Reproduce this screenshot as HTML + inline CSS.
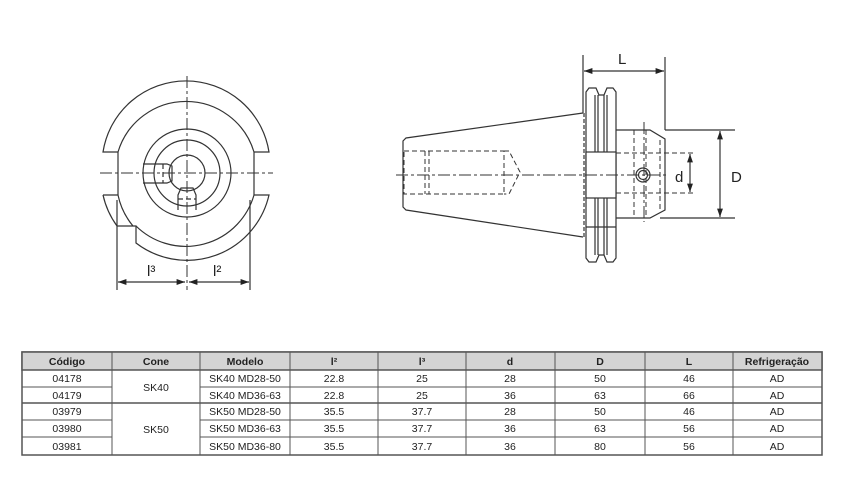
<!DOCTYPE html>
<html><head><meta charset="utf-8"><style>
html,body{margin:0;padding:0;background:#fff;}
svg{display:block}
text{font-family:"Liberation Sans",sans-serif;}
</style></head><body>
<svg width="844" height="479" viewBox="0 0 844 479" xmlns="http://www.w3.org/2000/svg">
<defs>
<marker id="ar" viewBox="0 0 10 10" refX="10" refY="5" markerWidth="7" markerHeight="7" orient="auto-start-reverse"><path d="M0,1.5 L10,5 L0,8.5 z" fill="#222"/></marker>
</defs>
<g fill="none" stroke="#333" stroke-width="1.2">
<!-- left view -->
<path d="M103,152 A84,84 0 0 1 269,152 L254,152 A71,71 0 0 0 118,152 Z"/>
<line x1="118" y1="152" x2="118" y2="195"/><line x1="254" y1="152" x2="254" y2="195"/>
<path d="M103,195 L118,195 A71,71 0 0 0 133,226 M103,195 A84,84 0 0 0 117,226 L136,226 L136,243 A84,84 0 0 0 269,195 L254,195 A71,71 0 0 1 136,226"/>
<circle cx="187" cy="173" r="44"/><circle cx="187" cy="173" r="33"/><circle cx="187" cy="173" r="18"/>
<path d="M143,164 L167,164 L172,166 L172,181 L167,183 L143,183"/>
<path d="M178,210 L178,195 L181,188 L193,188 L196,195 L196,210"/>
<g stroke-dasharray="5,3"><line x1="163" y1="164" x2="163" y2="183"/><line x1="178" y1="199" x2="196" y2="199"/></g>
<g stroke-dasharray="12,3,3,3" stroke-width="1"><line x1="100" y1="173" x2="273" y2="173"/><line x1="187" y1="76" x2="187" y2="290"/></g>
<line x1="117" y1="200" x2="117" y2="290"/><line x1="250" y1="200" x2="250" y2="290"/>
<line x1="118" y1="282" x2="185" y2="282" marker-start="url(#ar)" marker-end="url(#ar)"/>
<line x1="189" y1="282" x2="249" y2="282" marker-start="url(#ar)" marker-end="url(#ar)"/>
<!-- right view cone -->
<path d="M583,113 L406,138 L403,141 L403,207 L406,210 L583,237"/>
<line x1="584" y1="113" x2="584" y2="237" stroke-dasharray="4,2"/>
<!-- flange -->
<path d="M586,92 L589,88 L596,88 L599,95 L604,95 L607,88 L613,88 L616,92 L616,258 L613,262 L607,262 L604,255 L599,255 L596,262 L589,262 L586,258 Z"/>
<line x1="595" y1="95" x2="595" y2="255"/><line x1="598" y1="95" x2="598" y2="255"/><line x1="604" y1="95" x2="604" y2="255"/><line x1="607" y1="95" x2="607" y2="255"/>
<line x1="586" y1="227" x2="616" y2="227"/>
<rect x="586" y="152" width="30" height="46" fill="#fff"/>
<!-- front body -->
<path d="M616,130 L650,130 L665,139 L665,210 L650,218 L616,218"/>
<g stroke-dasharray="5,3" stroke-width="1">
<rect x="404" y="151" width="100" height="43"/>
<line x1="425" y1="151" x2="425" y2="194"/><line x1="429" y1="151" x2="429" y2="194"/>
<path d="M504,151 L509,151 L520,172 L509,194 L504,194"/>
<line x1="616" y1="153" x2="693" y2="153"/><line x1="616" y1="193" x2="693" y2="193"/>
<line x1="634" y1="130" x2="634" y2="218"/><line x1="646" y1="130" x2="646" y2="218"/>
<line x1="660" y1="140" x2="660" y2="210"/>
</g>
<circle cx="643" cy="175" r="7"/><circle cx="643" cy="175" r="4.5"/>
<g stroke-dasharray="12,3,3,3" stroke-width="1"><line x1="396" y1="175" x2="668" y2="175"/><line x1="644" y1="122" x2="644" y2="222"/></g>
<!-- dims -->
<line x1="583" y1="55" x2="583" y2="113"/><line x1="665" y1="57" x2="665" y2="130"/>
<line x1="584" y1="71" x2="664" y2="71" marker-start="url(#ar)" marker-end="url(#ar)"/>
<line x1="665" y1="130" x2="735" y2="130"/><line x1="660" y1="218" x2="735" y2="218"/>
<line x1="720" y1="131" x2="720" y2="217" marker-start="url(#ar)" marker-end="url(#ar)"/>
<line x1="690" y1="154" x2="690" y2="192" marker-start="url(#ar)" marker-end="url(#ar)"/>
</g>
<g fill="#222" font-size="15">
<text x="618" y="64">L</text><text x="675" y="182">d</text><text x="731" y="182">D</text>
<text x="147" y="276">l³</text><text x="213" y="276">l²</text>
</g>
<!-- table -->
<g font-size="10.5" text-anchor="middle" fill="#222">
<rect x="22" y="352" width="800" height="103" fill="#fff" stroke="#555" stroke-width="1.5"/>
<rect x="22" y="352" width="800" height="18" fill="#d4d4d4" stroke="#555" stroke-width="1.5"/>
<g stroke="#555" stroke-width="1">
<line x1="112" y1="352" x2="112" y2="455"/><line x1="200" y1="352" x2="200" y2="455"/><line x1="290" y1="352" x2="290" y2="455"/>
<line x1="378" y1="352" x2="378" y2="455"/><line x1="466" y1="352" x2="466" y2="455"/><line x1="555" y1="352" x2="555" y2="455"/>
<line x1="645" y1="352" x2="645" y2="455"/><line x1="733" y1="352" x2="733" y2="455"/>
<line x1="22" y1="387" x2="112" y2="387"/><line x1="200" y1="387" x2="822" y2="387"/>
<line x1="22" y1="403" x2="822" y2="403" stroke-width="1.5"/>
<line x1="22" y1="420" x2="112" y2="420"/><line x1="200" y1="420" x2="822" y2="420"/>
<line x1="22" y1="437" x2="112" y2="437"/><line x1="200" y1="437" x2="822" y2="437"/>
</g>
<g font-weight="bold"><text x="67" y="365">Código</text><text x="156" y="365">Cone</text><text x="245" y="365">Modelo</text><text x="334" y="365">l²</text><text x="422" y="365">l³</text><text x="510" y="365">d</text><text x="600" y="365">D</text><text x="689" y="365">L</text><text x="777" y="365">Refrigeração</text></g>
<text x="67" y="382">04178</text><text x="245" y="382">SK40 MD28-50</text><text x="334" y="382">22.8</text><text x="422" y="382">25</text><text x="510" y="382">28</text><text x="600" y="382">50</text><text x="689" y="382">46</text><text x="777" y="382">AD</text>
<text x="67" y="399">04179</text><text x="245" y="399">SK40 MD36-63</text><text x="334" y="399">22.8</text><text x="422" y="399">25</text><text x="510" y="399">36</text><text x="600" y="399">63</text><text x="689" y="399">66</text><text x="777" y="399">AD</text>
<text x="67" y="415">03979</text><text x="245" y="415">SK50 MD28-50</text><text x="334" y="415">35.5</text><text x="422" y="415">37.7</text><text x="510" y="415">28</text><text x="600" y="415">50</text><text x="689" y="415">46</text><text x="777" y="415">AD</text>
<text x="67" y="432">03980</text><text x="245" y="432">SK50 MD36-63</text><text x="334" y="432">35.5</text><text x="422" y="432">37.7</text><text x="510" y="432">36</text><text x="600" y="432">63</text><text x="689" y="432">56</text><text x="777" y="432">AD</text>
<text x="67" y="450">03981</text><text x="245" y="450">SK50 MD36-80</text><text x="334" y="450">35.5</text><text x="422" y="450">37.7</text><text x="510" y="450">36</text><text x="600" y="450">80</text><text x="689" y="450">56</text><text x="777" y="450">AD</text>
<text x="156" y="391">SK40</text><text x="156" y="433">SK50</text>
</g>
</svg>
</body></html>
